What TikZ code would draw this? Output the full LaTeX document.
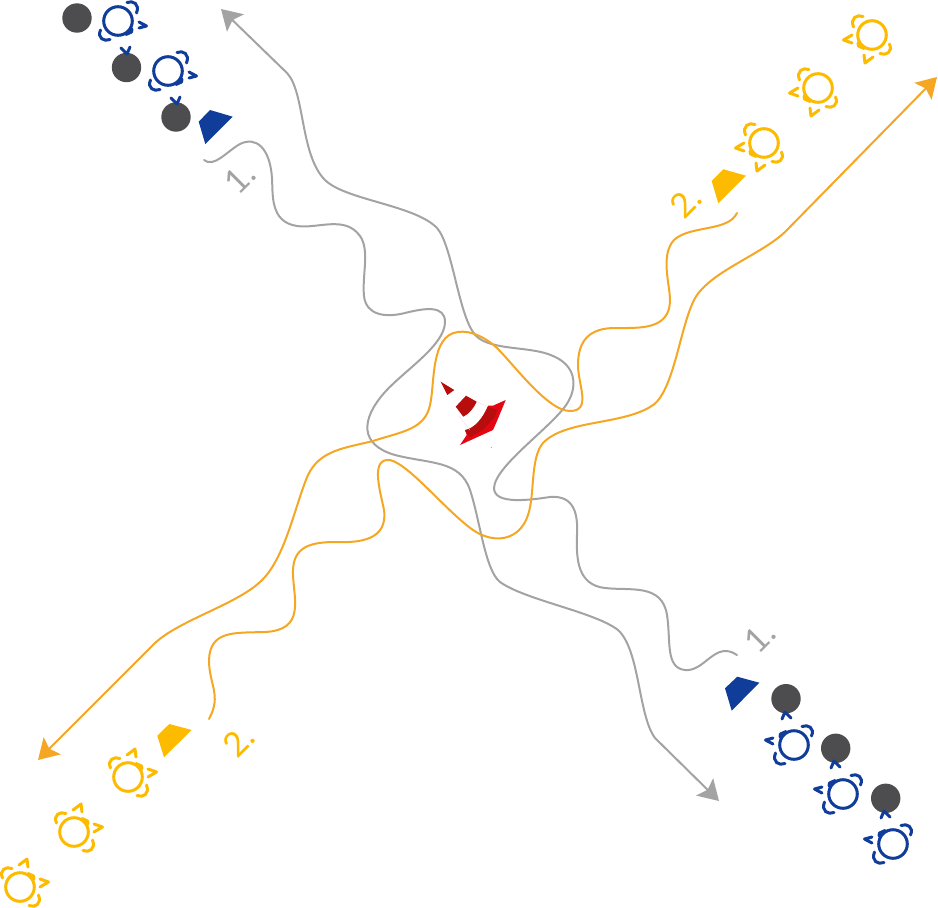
\documentclass[tikz,border=0pt]{standalone}
\usepackage{fontspec}
\setmainfont{Lato}
\usetikzlibrary{arrows.meta}
\definecolor{tblue}{HTML}{0F3D99}
\definecolor{tgold}{HTML}{FDBB00}
\definecolor{dball}{HTML}{4D4D4F}
\definecolor{lgray}{HTML}{A3A3A3}
\definecolor{lorange}{HTML}{F5A623}
\definecolor{cred}{HTML}{E30613}
\definecolor{cdark}{HTML}{B70D0D}
\newcommand{\turtlebody}{%
    \draw[line width=3pt,line cap=round,line join=round]
      (0,0) circle[radius=14.3]
      (14,8) -- (13.5,11) -- (8,13.5);
    \draw[line width=3pt,line cap=round]
      (9,-18.5) .. controls (15,-21) and (22,-17) .. (18.5,-8)
      (-8,18.5) .. controls (-14,21) and (-21,17) .. (-17.5,9);
}
\tikzset{
  x=1pt,y=-1pt,
  wire/.style={line width=2pt,line cap=round,line join=round},
  grayarrow/.style={wire,color=lgray,-{Stealth[length=20pt,width=24pt,inset=4pt]}},
  orangearrow/.style={wire,color=lorange,-{Stealth[length=20pt,width=24pt,inset=4pt]}},
  graystart/.style={wire,color=lgray,{Stealth[length=20pt,width=24pt,inset=4pt]}-},
  orangestart/.style={wire,color=lorange,{Stealth[length=20pt,width=24pt,inset=4pt]}-},
  ball/.style={fill=dball,draw=none},
  wedge/.style={draw=none},
  numeral/.style={font=\fontsize{34}{34}\selectfont,inner sep=0pt},
  blueturtle/.pic={
    \turtlebody
    \draw[line width=3pt,line cap=round,line join=round]
      (21,1) -- (28.5,5) -- (21,7)
      (3,27) -- (9,33) -- (12,26);
  },
  goldturtle/.pic={
    \turtlebody
    \draw[line width=3pt,line cap=round,line join=round]
      (20,0) -- (28.5,5) -- (20,8)
      (8,20) -- (7,28) -- (-1,22);
  }
}
\begin{document}
\begin{tikzpicture}
\useasboundingbox (0,0) rectangle (938,908);

% connector ends
\coordinate (g1s) at (204,160);
\coordinate (g1e) at (719,801);
\coordinate (g2s) at (221,9);
\coordinate (g2e) at (737,655);
\coordinate (o1s) at (737,213);
\coordinate (o1e) at (38,760);
\coordinate (o2s) at (937,77);
\coordinate (o2e) at (209,719);

% gray curves
\draw[grayarrow] (g1s)
 .. controls (214,168) and (226,152) .. (240,144)
 .. controls (256,136) and (270,148) .. (272,178)
 .. controls (273,195) and (270,222) .. (297,226)
 .. controls (318,229) and (345,215) .. (360,236)
 .. controls (370,250) and (362,275) .. (364,296)
 .. controls (366,315) and (385,318) .. (405,313)
 .. controls (425,308) and (445,305) .. (445,322)
 .. controls (445,345) and (405,370) .. (385,392)
 .. controls (360,420) and (360,445) .. (395,455)
 .. controls (430,464) and (460,460) .. (470,490)
 .. controls (480,520) and (485,570) .. (500,582)
 .. controls (525,600) and (595,612) .. (618,630)
 .. controls (640,650) and (638,715) .. (655,738)
 -- (g1e);
\draw[graystart] (g2s) -- (287,73)
 .. controls (305,92) and (300,155) .. (325,180)
 .. controls (345,200) and (415,205) .. (437,228)
 .. controls (452,245) and (458,310) .. (473,332)
 .. controls (485,352) and (530,345) .. (553,356)
 .. controls (575,365) and (578,385) .. (568,402)
 .. controls (555,425) and (495,465) .. (494,488)
 .. controls (494,505) and (530,500) .. (550,497)
 .. controls (575,495) and (578,515) .. (577,535)
 .. controls (576,560) and (578,585) .. (605,588)
 .. controls (630,591) and (662,583) .. (667,615)
 .. controls (671,640) and (665,668) .. (685,670)
 .. controls (705,672) and (715,640) .. (g2e);

% orange curves
\draw[orangearrow] (o1s)
 .. controls (728,232) and (690,225) .. (674,240)
 .. controls (660,255) and (670,285) .. (670,300)
 .. controls (670,330) and (640,328) .. (615,328)
 .. controls (590,328) and (578,340) .. (578,365)
 .. controls (578,385) and (592,411) .. (570,411)
 .. controls (548,411) and (515,366) .. (497,348)
 .. controls (485,337) and (470,330) .. (458,332)
 .. controls (430,335) and (435,385) .. (430,405)
 .. controls (425,430) and (400,432) .. (373,441)
 .. controls (345,448) and (320,450) .. (308,475)
 .. controls (295,505) and (285,560) .. (260,582)
 .. controls (235,605) and (180,620) .. (155,643)
 -- (o1e);
\draw[orangestart] (o2s) -- (785,232)
 .. controls (760,255) and (715,270) .. (697,295)
 .. controls (680,320) and (675,395) .. (650,407)
 .. controls (620,425) and (565,420) .. (543,443)
 .. controls (530,458) and (535,495) .. (528,515)
 .. controls (520,540) and (495,545) .. (473,530)
 .. controls (445,510) and (410,465) .. (390,460)
 .. controls (370,458) and (380,490) .. (384,510)
 .. controls (388,540) and (360,543) .. (335,542)
 .. controls (305,542) and (292,550) .. (293,575)
 .. controls (294,600) and (305,630) .. (265,632)
 .. controls (235,633) and (210,630) .. (209,660)
 .. controls (209,685) and (222,695) .. (o2e);

% cone
\fill[cred] (505.7,400) -- (497,421) -- (493,430) -- (487,432.7) -- (460,445) -- (466.7,435)
  -- (465,430) .. controls (475,428) and (483,418) .. (488,405.7) -- (493,405.7) -- cycle;
\fill[cdark] (488,406.7) -- (497,410) -- (495,416.7) -- (483,430) -- (470,437) -- (465,430.7)
  .. controls (475,428) and (483,418) .. cycle;
\fill[cdark] (466,395.7) -- (476.7,401.7) .. controls (474,408) and (469,414) .. (463.3,416.7) -- (455.7,406.7) -- cycle;
\fill[cdark] (440.7,381.7) -- (454.3,390) -- (447.3,395) -- cycle;
\draw[cred!20,line width=0.3pt] (476.7,401.7) -- (488,406.7) (459,416) -- (470,430);
\fill[gray] (491.3,447.3) circle[radius=0.5];

% top left
\fill[ball] (77,18) circle[radius=14.7];
\fill[ball] (126.5,67.5) circle[radius=14.7];
\fill[ball] (176,117) circle[radius=14.7];
\pic[color=tblue] at (118,21) {blueturtle};
\pic[color=tblue] at (168,71) {blueturtle};
\fill[wedge,tblue] (210,110) -- (232.7,116.7) -- (205.3,144) -- (198.7,121.7) -- cycle;
\node[numeral,text=lgray,rotate=45] (n1a) at (240,178) {1.};

% bottom right
\fill[ball] (786,698.7) circle[radius=14.7];
\fill[ball] (835.7,748.3) circle[radius=14.7];
\fill[ball] (885.7,798.3) circle[radius=14.7];
\pic[color=tblue,rotate=180] at (794,745) {blueturtle};
\pic[color=tblue,rotate=180] at (843,794) {blueturtle};
\pic[color=tblue,rotate=180] at (893,844) {blueturtle};
\fill[wedge,tblue] (737.3,676.7) -- (759.3,682.7) -- (731.7,710.7) -- (725,688.3) -- cycle;
\node[numeral,text=lgray,rotate=45] (n1b) at (760,637) {1.};

% top right
\pic[color=tgold,xscale=-1] at (872,35) {goldturtle};
\pic[color=tgold,xscale=-1] at (818,88) {goldturtle};
\pic[color=tgold,xscale=-1] at (764,143) {goldturtle};
\fill[wedge,tgold] (723.3,169.3) -- (746,175.7) -- (718.3,203.3) -- (711.7,181) -- cycle;
\node[numeral,text=tgold,rotate=45] (n2a) at (686,202) {2.};

% bottom left
\pic[color=tgold,yscale=-1] at (128,777) {goldturtle};
\pic[color=tgold,yscale=-1] at (74,832) {goldturtle};
\pic[color=tgold,yscale=-1] at (20,887) {goldturtle};
\fill[wedge,tgold] (169.3,724) -- (191.7,730) -- (164,757.3) -- (157.3,735.7) -- cycle;
\node[numeral,text=tgold,rotate=45] (n2b) at (239,741) {2.};
\end{tikzpicture}
\end{document}
